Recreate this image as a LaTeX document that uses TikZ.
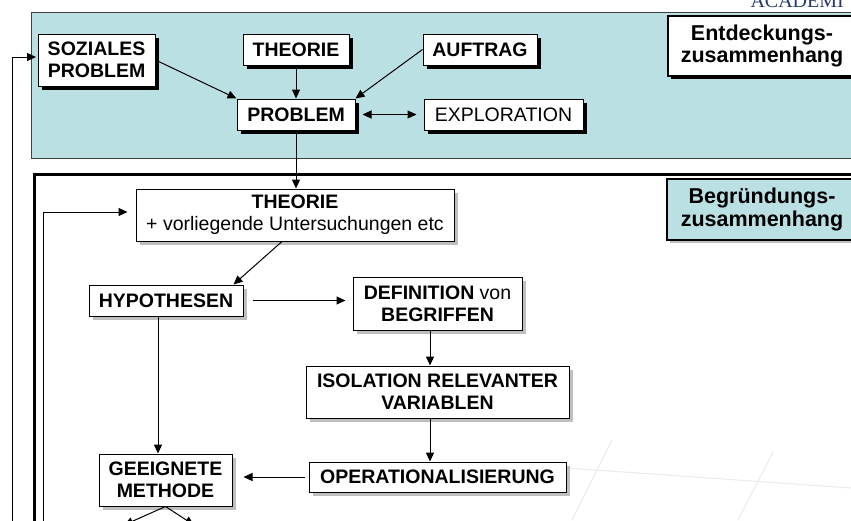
\documentclass[tikz,border=0pt]{standalone}
\usepackage{fontspec}
\setmainfont{Liberation Sans}
\newfontfamily\acadfont{Liberation Serif}
\usetikzlibrary{arrows.meta, shadows}

\definecolor{panelblue}{RGB}{187,224,228}
\definecolor{acadblue}{RGB}{38,58,105}

\newcommand{\boxfont}{\fontsize{19.5}{22}\selectfont}
\newcommand{\labfont}{\fontsize{21.5}{22.5}\selectfont\bfseries}

\tikzset{
	topbox/.style={draw, fill=white, inner sep=0pt, align=center, font=\boxfont\bfseries,
		drop shadow={shadow xshift=4pt, shadow yshift=-4pt, fill=black, opacity=1}},
	lowbox/.style={draw, fill=white, inner sep=0pt, align=center, font=\boxfont\bfseries,
		drop shadow={shadow xshift=4pt, shadow yshift=-4pt, fill=black!25, opacity=1}},
	labbox/.style={draw, line width=2pt, inner sep=0pt, align=center, font=\labfont},
}

\begin{document}
\begin{tikzpicture}[x=1pt, y=-1pt, line width=1pt, >={Triangle[length=9pt, width=8pt]}]
	\useasboundingbox (0,0) rectangle (851,520);
	\clip (0,0) rectangle (851,520);
	\fill[white] (0,0) rectangle (851,520);

	\node[font=\acadfont\fontsize{20}{20}\selectfont, text=acadblue, anchor=base west, inner sep=0pt] (acad) at (750,7) {ACADEMI};

	\draw[fill=panelblue, draw=black!75] (31,12) rectangle (870,158);
	\draw[line width=3pt] (34,174) rectangle (880,560);
	\draw[black!8] (612,440) -- (572,520) (773,452) -- (738,520) (567,468) -- (851,488);

	\node[topbox, minimum width=117pt, minimum height=52pt] (soz) at (96.5,60) {SOZIALES\\PROBLEM};
	\node[topbox, minimum width=106pt, minimum height=31pt] (theo) at (296,49.5) {THEORIE};
	\node[topbox, minimum width=114pt, minimum height=31pt] (auf) at (480,49.5) {AUFTRAG};
	\node[topbox, minimum width=118pt, minimum height=31pt] (prob) at (296,114.5) {PROBLEM};
	\node[topbox, font=\boxfont, minimum width=159pt, minimum height=31pt] (expl) at (503.5,114.5) {EXPLORATION};
	\node[labbox, fill=white, minimum width=188pt, minimum height=60pt,
		drop shadow={shadow xshift=3pt, shadow yshift=-3pt, fill=black, opacity=1}] (ent) at (762,46) {Entdeckungs-\\zusammenhang};

	\node[lowbox, font=\boxfont, minimum width=318pt, minimum height=52pt] (theob) at (295,215) {\textbf{THEORIE}\\+ vorliegende Untersuchungen etc};
	\node[labbox, fill=panelblue, minimum width=190pt, minimum height=61pt,
		drop shadow={shadow xshift=3pt, shadow yshift=-3pt, fill=black!25, opacity=1}] (beg) at (762,209.5) {Begründungs-\\zusammenhang};
	\node[lowbox, minimum width=154pt, minimum height=31pt] (hyp) at (166,300.5) {HYPOTHESEN};
	\node[lowbox, font=\boxfont, minimum width=169pt, minimum height=53pt] (def) at (437.5,303.5) {\textbf{DEFINITION} von\\\textbf{BEGRIFFEN}};
	\node[lowbox, minimum width=263pt, minimum height=52pt] (iso) at (437.5,392) {ISOLATION RELEVANTER\\VARIABLEN};
	\node[lowbox, minimum width=257pt, minimum height=30pt] (op) at (437.5,477) {OPERATIONALISIERUNG};
	\node[lowbox, minimum width=133pt, minimum height=52pt] (gm) at (165.5,480) {GEEIGNETE\\METHODE};

	\coordinate (outer) at (12,540);
	\coordinate (inner) at (43,540);
	\coordinate (gl) at (124,525);
	\coordinate (gr) at (194,525);

	\path [->]
		(soz.east) edge (prob.north west)
		(theo) edge (prob)
		(auf.west) edge (prob.north east)
		(prob.east) edge[<->, shorten <=7pt, shorten >=7pt] (expl.west)

		(prob.south) edge (prob.south |- theob.north)
		([xshift=-13pt]theob.south) edge ([xshift=-10pt]hyp.north east)
		(hyp.east) edge[shorten <=9pt, shorten >=7pt] (hyp.east -| def.west)
		([xshift=-7.5pt]def.south) edge ([xshift=-7.5pt]iso.north)
		([xshift=-7.5pt]iso.south) edge ([xshift=-7.5pt]op.north)
		(op.west) edge[shorten <=4pt, shorten >=11pt] (op.west -| gm.east)
		([xshift=-8pt]hyp.south) edge ([xshift=-7.5pt]gm.north)

		(gm.south) edge (gl)
		(gm.south) edge (gr)
		;

	\draw[->, shorten >=1.5pt] (outer) |- ([yshift=3pt]soz.west);
	\draw[->, shorten >=8pt] (inner) |- ([yshift=3pt]theob.west);
\end{tikzpicture}
\end{document}
